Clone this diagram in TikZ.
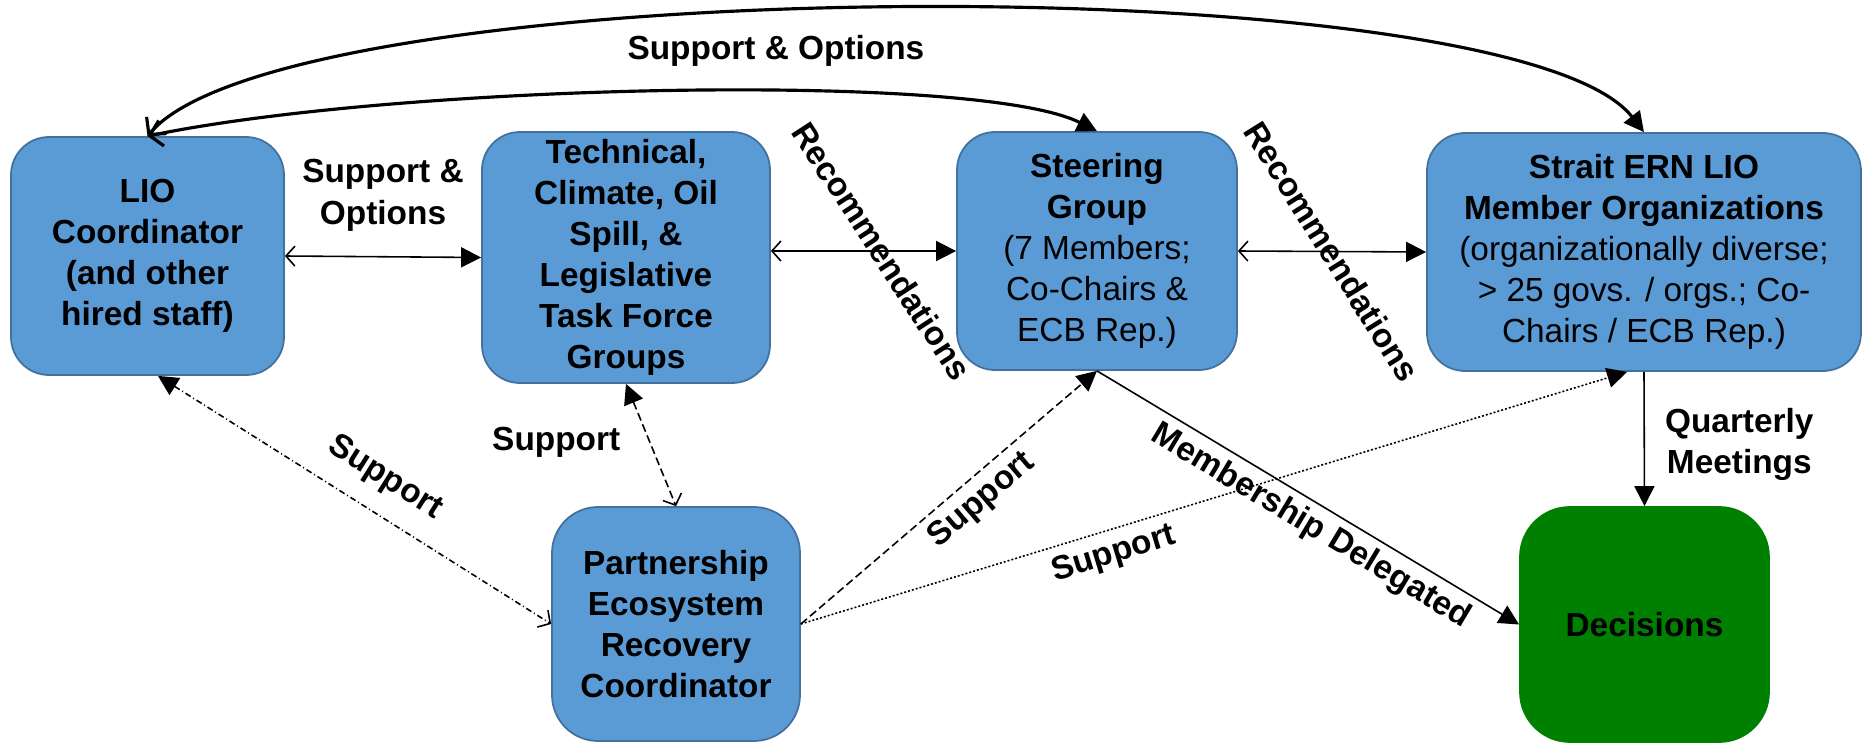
\documentclass[tikz,border=0pt]{standalone}
\usepackage{fontspec}
\setmainfont{Liberation Sans}
\usetikzlibrary{arrows.meta}
\definecolor{boxfill}{HTML}{5B9BD5}
\definecolor{boxedge}{HTML}{41719C}
\definecolor{decgreen}{HTML}{008000}
\newcommand{\rg}[1]{{\mdseries #1}}

\begin{document}
\begin{tikzpicture}[font=\fontsize{9.5}{11.7}\selectfont\bfseries,
    unit/.style={draw=boxedge, fill=boxfill, line width=0.5pt, rounded corners=0.38cm, align=center, inner sep=0pt},
    lbl/.style={inner sep=0pt, align=center},
    link/.style={line width=0.45pt},
    loopline/.style={line width=0.9pt},
    openhead/.tip={Straight Barb[length=0.9mm,width=2mm]},
    bighead/.tip={Straight Barb[length=1.2mm,width=2.6mm]},
    fullhead/.tip={Triangle[length=2mm,width=2mm]}]
    \useasboundingbox (0,0) rectangle (18.72,7.44);
    \node[unit, minimum width=2.73cm, minimum height=2.38cm] (lio) at (1.475, 4.88) {LIO\\Coordinator\\(and other\\hired staff)};
    \node[unit, minimum width=2.88cm, minimum height=2.51cm] (task) at (6.26, 4.865) {Technical,\\Climate, Oil\\Spill, \&\\Legislative\\Task Force\\Groups};
    \node[unit, minimum width=2.80cm, minimum height=2.38cm] (steer) at (10.97, 4.93) {Steering\\Group\\\rg{(7 Members;}\\\rg{Co-Chairs \&}\\\rg{ECB Rep.)}};
    \node[unit, minimum width=4.34cm, minimum height=2.38cm] (member) at (16.44, 4.92) {Strait ERN LIO\\Member Organizations\\\rg{(organizationally diverse;}\\\rg{> 25 govs. / orgs.; Co-}\\\rg{Chairs / ECB Rep.)}};
    \node[unit, rounded corners=0.46cm, minimum width=2.48cm, minimum height=2.34cm] (perc) at (6.76, 1.20) {Partnership\\Ecosystem\\Recovery\\Coordinator};
    \node[unit, draw=decgreen, fill=decgreen, rounded corners=0.5cm, minimum width=2.49cm, minimum height=2.35cm] (dec) at (16.445, 1.195) {Decisions};
    % curved links over the top
    \draw[loopline, bighead-fullhead] (lio.north) .. controls +(1.38,1.65) and +(-1.32,1.69) .. node[lbl, pos=0.44, below=0.23cm] {Support \& Options} (member.north);
    \draw[loopline, bighead-fullhead] (lio.north) .. controls +(2.5,0.52) and +(-1.2,0.6) .. (steer.north);
    % links between the top row
    \draw[link, openhead-fullhead] (lio.east) -- node[lbl, above=0.25cm] {Support \&\\Options} (task.west);
    \draw[link, openhead-fullhead] (task.east |- steer.west) -- node[lbl, pos=0.6, rotate=-57] {Recommendations} (steer.west);
    \draw[link, openhead-fullhead] (steer.east) -- node[lbl, midway, rotate=-58] {Recommendations} (member.west);
    % support links
    \draw[link, fullhead-openhead, dash pattern=on 0.06cm off 0.03cm on 0.01cm off 0.03cm] (lio.-85) -- node[lbl, sloped, pos=0.53, above=0.19cm] {Support} (perc.west);
    \draw[link, fullhead-openhead, dash pattern=on 0.08cm off 0.04cm] (task.south) -- node[lbl, pos=0.48, left=0.29cm] {Support} (perc.north);
    \draw[link, -fullhead, dash pattern=on 0.08cm off 0.04cm] (perc.east) -- node[lbl, sloped, pos=0.56, below=0.08cm] {Support} (steer.south);
    \draw[link, -fullhead, dash pattern=on 0.02cm off 0.02cm] (perc.east) -- node[lbl, sloped, pos=0.37, below=0.09cm] {Support} (member.-98);
    % to the decisions
    \draw[link, -fullhead] (steer.south) -- node[lbl, sloped, pos=0.535, below=0.07cm] {Membership Delegated} (dec.west);
    \draw[link, -fullhead] (member.south) -- node[lbl, pos=0.54, right=0.2cm] {Quarterly\\Meetings} (dec.north);
\end{tikzpicture}
\end{document}
